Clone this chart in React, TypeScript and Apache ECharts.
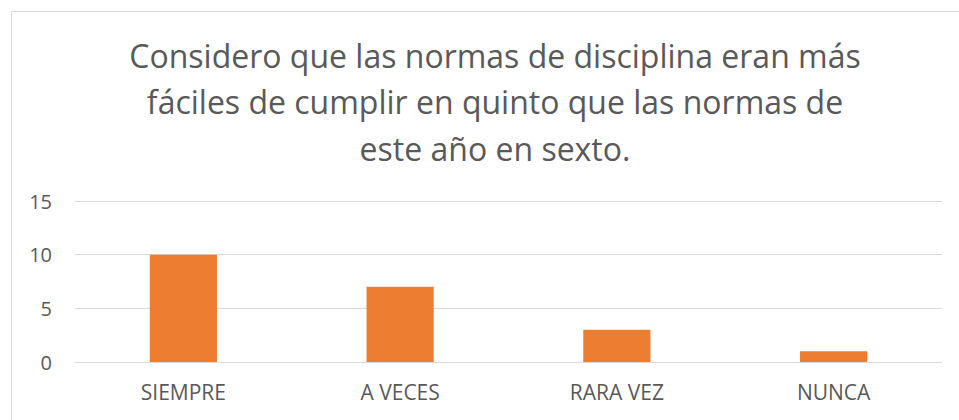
import React, { useEffect, useRef } from "react";
import * as echarts from "echarts";

const categories = ["SIEMPRE", "A VECES", "RARA VEZ", "NUNCA"];
const values = [10, 7, 3, 1];
const titleLines = [
  "Considero que las normas de disciplina eran más",
  "fáciles de cumplir en quinto que las normas de",
  "este año en sexto.",
];

export default function App() {
  const ref = useRef<HTMLDivElement>(null);
  useEffect(() => {
    if (!ref.current) return;
    const chart = echarts.init(ref.current, undefined, { renderer: "svg" });
    const font = "'Open Sans', sans-serif";
    chart.setOption({
      animation: false,
      backgroundColor: "#ffffff",
      graphic: [
        {
          type: "rect",
          shape: { x: 11.5, y: 11.5, width: 980, height: 440 },
          style: { fill: "none", stroke: "#d9d9d9", lineWidth: 1 },
          silent: true,
        },
      ],
      title: {
        text: titleLines.join("\n"),
        left: 490,
        textAlign: "center",
        top: 27,
        textStyle: {
          fontFamily: font,
          fontSize: 32,
          fontWeight: "normal",
          color: "#595959",
          lineHeight: 46.5,
        },
      },
      grid: { left: 75, right: 17, top: 201, bottom: 58 },
      xAxis: {
        type: "category",
        data: categories,
        axisTick: { show: false },
        axisLine: { lineStyle: { color: "#d9d9d9", width: 1 } },
        axisLabel: { color: "#595959", fontSize: 21, fontFamily: font, margin: 19 },
      },
      yAxis: {
        type: "value",
        min: 0,
        max: 15,
        interval: 5,
        axisLine: { show: false },
        axisTick: { show: false },
        axisLabel: { color: "#595959", fontSize: 20, fontFamily: font, margin: 23 },
        splitLine: { lineStyle: { color: "#d9d9d9", width: 1 } },
      },
      series: [
        {
          type: "bar",
          data: values,
          barWidth: "31%",
          itemStyle: { color: "#ED7D31" },
        },
      ],
    });
    return () => chart.dispose();
  }, []);
  return (
    <div
      ref={ref}
      style={{ position: "absolute", left: 0, top: 0, width: 959, height: 420 }}
    />
  );
}
